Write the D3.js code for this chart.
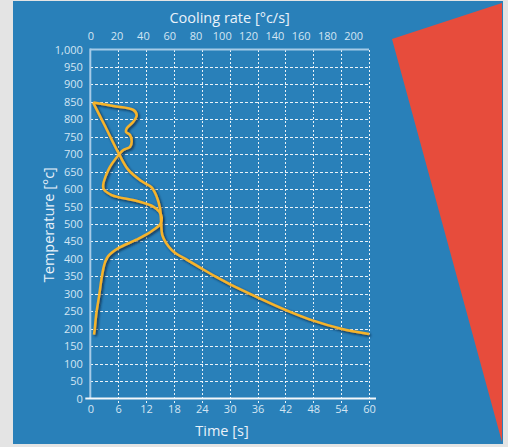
<!doctype html>
<html lang="en">
  <head>
    <meta charset="UTF-8" />
    <title>Cooling curve</title>
    <script src="https://d3js.org/d3.v7.min.js"></script>
    <style>
      body {
        margin: 0;
        padding: 0;
        overflow: hidden;
        background: #e4e4e4;
        font-family: "Open Sans", sans-serif;
      }
      svg {
        display: block;
      }
    </style>
  </head>
  <body>
    <script>
      // tick labels
      const timeTicks = [0, 6, 12, 18, 24, 30, 36, 42, 48, 54, 60];
      const rateTicks = [0, 20, 40, 60, 80, 100, 120, 140, 160, 180, 200];
      const tempTicks = [0, 50, 100, 150, 200, 250, 300, 350, 400, 450, 500,
        550, 600, 650, 700, 750, 800, 850, 900, 950, 1000];

      // cooling curve: time [s] vs temperature [°c]
      const coolTime = [0.6, 3, 6.2, 8.2, 11, 13.2, 14.3, 15, 15.25, 15.5,
        16.3, 17.5, 18.6, 21, 24, 27, 30, 36, 42, 48, 54, 60];
      const coolTemp = [848, 785, 700, 655, 623, 605, 578, 545, 505, 468,
        446, 426, 414, 396, 372, 349, 328, 290, 254, 223, 200, 185];

      // cooling rate [°c/s] vs temperature [°c]
      const rateTemp = [848, 838, 827, 812, 793, 774, 764, 755, 736, 721, 712,
        700, 655, 602, 583, 566, 550, 535, 518, 500, 478, 455, 430, 408, 390,
        370, 340, 292, 244, 196, 183];
      const rateValue = [2.3, 17.5, 32.7, 35.3, 32.7, 27.7, 27.1, 30.2, 31.5,
        30.2, 25.1, 22, 13.7, 9.9, 16.3, 35.5, 47.9, 52.5, 54.4, 53.3, 46,
        35, 21, 13.6, 11.2, 9.8, 8.4, 6.6, 4.6, 3.3, 2.8];

      const width = 508;
      const height = 447;

      const svg = d3
        .select("body")
        .append("svg")
        .attr("width", width)
        .attr("height", height);

      const defs = svg.append("defs");
      defs
        .append("filter")
        .attr("id", "shadow")
        .attr("x", "-20%")
        .attr("y", "-10%")
        .attr("width", "140%")
        .attr("height", "120%")
        .append("feDropShadow")
        .attr("dx", 1.5)
        .attr("dy", 1.5)
        .attr("stdDeviation", 0.8)
        .attr("flood-color", "#0b2436")
        .attr("flood-opacity", 0.85);

      // background panel + red wedge
      svg.append("rect")
        .attr("x", 13).attr("y", 1)
        .attr("width", 490).attr("height", 443)
        .attr("fill", "#2980b9");
      svg.append("path")
        .attr("d", "M392,39L502,3L502,442Z")
        .attr("fill", "#e74c3c");

      const x = d3.scaleLinear().domain([0, 60]).range([90.3, 369]);
      const xTop = d3.scaleLinear().domain([0, 212]).range([90.3, 369]);
      const y = d3.scaleLinear().domain([0, 1000]).range([398.5, 49.5]);

      // grid
      const grid = svg.append("g")
        .attr("stroke", "#fff")
        .attr("stroke-opacity", 0.9)
        .attr("stroke-width", 1)
        .attr("shape-rendering", "crispEdges");

      grid.selectAll("line.h")
        .data(tempTicks.filter((d) => d > 0 && d < 1000))
        .join("line")
        .attr("class", "h")
        .attr("x1", x(0))
        .attr("x2", x(60))
        .attr("y1", (d) => Math.round(y(d)) + 0.5)
        .attr("y2", (d) => Math.round(y(d)) + 0.5)
        .attr("stroke-dasharray", "3,2");

      grid.selectAll("line.v")
        .data(timeTicks.filter((d) => d > 0))
        .join("line")
        .attr("class", "v")
        .attr("x1", (d) => Math.round(x(d)) + 0.5)
        .attr("x2", (d) => Math.round(x(d)) + 0.5)
        .attr("y1", y(1000))
        .attr("y2", y(0) + 6)
        .attr("stroke-dasharray", "2,2");

      // axis lines
      svg.append("line")
        .attr("x1", x(0)).attr("x2", x(0))
        .attr("y1", y(1000) - 1).attr("y2", y(0))
        .attr("stroke", "#a6cbe8").attr("stroke-width", 2);
      svg.append("line")
        .attr("x1", x(0)).attr("x2", x(60))
        .attr("y1", y(1000)).attr("y2", y(1000))
        .attr("stroke", "#a6cbe8").attr("stroke-width", 2);
      svg.append("line")
        .attr("x1", x(0) - 5).attr("x2", x(60) + 7)
        .attr("y1", y(0)).attr("y2", y(0))
        .attr("stroke", "#f4f8fb").attr("stroke-width", 2);

      // tick labels
      const styleAxis = (g) => {
        g.select(".domain").remove();
        g.selectAll("text")
          .attr("fill", "#d3e5f3")
          .style("font-family", '"Open Sans", sans-serif')
          .style("font-size", "11px");
      };

      svg.append("g")
        .attr("transform", `translate(${x(0)},0)`)
        .call(d3.axisLeft(y).tickValues(tempTicks).tickFormat(d3.format(",")).tickSize(0).tickPadding(7.5))
        .call(styleAxis);

      svg.append("g")
        .attr("transform", `translate(0,${y(1000)})`)
        .call(d3.axisTop(xTop).tickValues(rateTicks).tickSize(0).tickPadding(10))
        .call(styleAxis);

      svg.append("g")
        .attr("transform", `translate(0,${y(0)})`)
        .call(d3.axisBottom(x).tickValues(timeTicks).tickSize(0).tickPadding(6.7))
        .call(styleAxis);

      // axis titles
      const title = svg.append("g")
        .attr("fill", "#eaf2f9")
        .style("font-size", "14.5px")
        .attr("text-anchor", "middle");
      title.append("text").attr("x", (x(0) + x(60)) / 2).attr("y", 22.7).text("Cooling rate [°c/s]");
      title.append("text").attr("x", 222).attr("y", 436).text("Time [s]");
      title.append("text")
        .attr("transform", "translate(53.5,224.7) rotate(-90)")
        .text("Temperature [°c]");

      // curves
      const curve = d3.curveCatmullRom.alpha(0.5);
      const coolLine = d3.line()
        .x((d, i) => x(coolTime[i]))
        .y((d, i) => y(coolTemp[i]))
        .curve(curve);
      const rateLine = d3.line()
        .x((d, i) => xTop(rateValue[i]))
        .y((d, i) => y(rateTemp[i]))
        .curve(curve);

      const lines = svg.append("g")
        .attr("fill", "none")
        .attr("stroke", "#f6b42b")
        .attr("stroke-width", 2.5)
        .attr("stroke-linejoin", "round")
        .attr("filter", "url(#shadow)");

      lines.append("path").attr("d", coolLine(coolTime));
      lines.append("path").attr("d", rateLine(rateTemp));
    </script>
  </body>
</html>
